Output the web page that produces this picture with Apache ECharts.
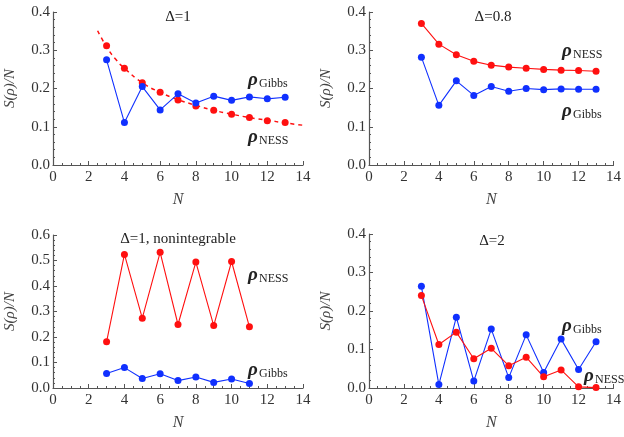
<!DOCTYPE html>
<html>
<head>
<meta charset="utf-8">
<script src="https://cdn.jsdelivr.net/npm/echarts@6/dist/echarts.min.js"></script>
<style>
html, body { margin: 0; padding: 0; background: #fff; }
#main { width: 624px; height: 437px; }
</style>
</head>
<body>
<div id="main"></div>
<script>
// chain lengths
const nLong = [3, 4, 5, 6, 7, 8, 9, 10, 11, 12, 13]
const nShort = [3, 4, 5, 6, 7, 8, 9, 10, 11]

// Δ=1
const gibbsD1 = [0.275, 0.111, 0.205, 0.144, 0.186, 0.162, 0.180, 0.169, 0.178, 0.173, 0.177]
const nessD1 = [0.312, 0.253, 0.215, 0.190, 0.170, 0.154, 0.143, 0.133, 0.124, 0.116, 0.111]
// dashed fit curve
const fitX = [2.5, 3, 3.5, 4, 5, 6, 7, 8, 9, 10, 11, 12, 13, 14]
const fitY = [0.351, 0.309, 0.277, 0.253, 0.215, 0.190, 0.171, 0.156, 0.143, 0.133, 0.124, 0.117, 0.110, 0.104]

// Δ=0.8
const nessD08 = [0.370, 0.316, 0.288, 0.271, 0.261, 0.256, 0.253, 0.250, 0.248, 0.247, 0.245]
const gibbsD08 = [0.282, 0.156, 0.220, 0.182, 0.205, 0.193, 0.200, 0.197, 0.199, 0.198, 0.198]

// Δ=1, nonintegrable
const nessNI = [0.181, 0.524, 0.274, 0.532, 0.249, 0.494, 0.245, 0.496, 0.240]
const gibbsNI = [0.057, 0.080, 0.037, 0.056, 0.029, 0.043, 0.022, 0.035, 0.018]

// Δ=2
const gibbsD2 = [0.264, 0.009, 0.184, 0.018, 0.153, 0.027, 0.138, 0.040, 0.127, 0.048, 0.120]
const nessD2 = [0.240, 0.113, 0.145, 0.076, 0.103, 0.058, 0.080, 0.029, 0.047, 0.003, 0.001]

const xTicks = [0, 2, 4, 6, 8, 10, 12, 14]

const BLUE = '#1030ff'
const RED = '#ff1010'
const AXIS = '#555'
const SERIF = 'Liberation Serif, DejaVu Serif, serif'

function pairs (xs, ys) {
  return xs.map((x, i) => [x, ys[i]])
}

function xAx (i) {
  return {
    gridIndex: i,
    type: 'value',
    min: xTicks[0],
    max: xTicks[xTicks.length - 1],
    interval: 2,
    name: 'N',
    nameLocation: 'middle',
    nameGap: 27,
    nameTextStyle: { fontFamily: SERIF, fontStyle: 'italic', fontSize: 16, color: '#444' },
    axisLine: { show: true, onZero: false, lineStyle: { color: AXIS, width: 1.2 } },
    axisTick: { show: true, inside: true, length: 4, lineStyle: { color: AXIS } },
    minorTick: { show: true, splitNumber: 4, length: 2, lineStyle: { color: AXIS } },
    axisLabel: { fontFamily: SERIF, fontSize: 15, color: '#333', margin: 5 },
    splitLine: { show: false }
  }
}

function yAx (i, max) {
  return {
    gridIndex: i,
    type: 'value',
    min: 0,
    max: max,
    interval: 0.1,
    name: 'S(ρ)/N',
    nameLocation: 'middle',
    nameRotate: 90,
    nameGap: 35,
    nameTextStyle: { fontFamily: SERIF, fontStyle: 'italic', fontSize: 15, color: '#444' },
    axisLine: { show: true, lineStyle: { color: AXIS, width: 1.2 } },
    axisTick: { show: true, inside: true, length: 4, lineStyle: { color: AXIS } },
    minorTick: { show: true, splitNumber: 5, length: 2, lineStyle: { color: AXIS } },
    axisLabel: { fontFamily: SERIF, fontSize: 15, color: '#333', margin: 3, formatter: v => v.toFixed(1) },
    splitLine: { show: false }
  }
}

function dots (i, data, color, withLine) {
  return {
    type: withLine ? 'line' : 'scatter',
    xAxisIndex: i,
    yAxisIndex: i,
    data: data,
    symbol: 'circle',
    symbolSize: 7,
    showSymbol: true,
    itemStyle: { color: color, opacity: 1 },
    lineStyle: { color: color, width: 1.1 },
    animation: false,
    z: 3
  }
}

// ρ with a subscript
function rho (x, y, sub) {
  return [
    { type: 'text', x: x, y: y, style: { text: 'ρ', font: 'italic bold 19px ' + SERIF, fill: '#222', textVerticalAlign: 'middle' } },
    { type: 'text', x: x + 11, y: y + 4, style: { text: sub, font: '12px ' + SERIF, fill: '#222', textVerticalAlign: 'middle' } }
  ]
}

function label (x, y, text) {
  return { type: 'text', x: x, y: y, style: { text: text, font: '15px ' + SERIF, fill: '#222', textAlign: 'center', textVerticalAlign: 'middle' } }
}

const chart = echarts.init(document.getElementById('main'))
chart.setOption({
  animation: false,
  grid: [
    { left: 53, top: 12, width: 250, height: 153 },
    { left: 369, top: 12, width: 249, height: 153 },
    { left: 53, top: 235, width: 250, height: 153 },
    { left: 369, top: 234, width: 249, height: 154 }
  ],
  xAxis: [xAx(0), xAx(1), xAx(2), xAx(3)],
  yAxis: [yAx(0, 0.4), yAx(1, 0.4), yAx(2, 0.6), yAx(3, 0.4)],
  series: [
    {
      type: 'line',
      xAxisIndex: 0,
      yAxisIndex: 0,
      data: pairs(fitX, fitY),
      smooth: true,
      showSymbol: false,
      lineStyle: { color: RED, width: 1.5, type: [4, 4] },
      z: 2
    },
    dots(0, pairs(nLong, nessD1), RED, false),
    dots(0, pairs(nLong, gibbsD1), BLUE, true),
    dots(1, pairs(nLong, nessD08), RED, true),
    dots(1, pairs(nLong, gibbsD08), BLUE, true),
    dots(2, pairs(nShort, nessNI), RED, true),
    dots(2, pairs(nShort, gibbsNI), BLUE, true),
    dots(3, pairs(nLong, gibbsD2), BLUE, true),
    dots(3, pairs(nLong, nessD2), RED, true)
  ],
  graphic: [
    label(178, 17, 'Δ=1'),
    label(493, 17, 'Δ=0.8'),
    label(178, 239, 'Δ=1, nonintegrable'),
    label(492, 241, 'Δ=2'),
    ...rho(248, 80, 'Gibbs'),
    ...rho(248, 137, 'NESS'),
    ...rho(562, 51, 'NESS'),
    ...rho(562, 111, 'Gibbs'),
    ...rho(248, 275, 'NESS'),
    ...rho(248, 370, 'Gibbs'),
    ...rho(562, 326, 'Gibbs'),
    ...rho(584, 376, 'NESS')
  ]
})
</script>
</body>
</html>
